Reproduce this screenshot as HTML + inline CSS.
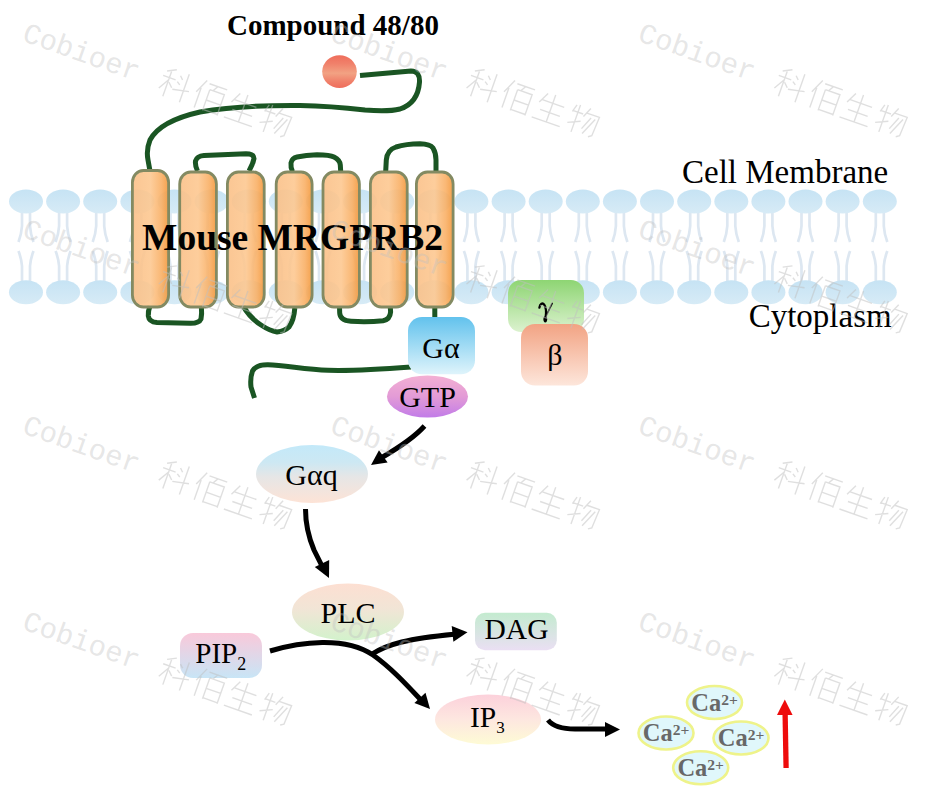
<!DOCTYPE html>
<html><head><meta charset="utf-8"><style>
html,body{margin:0;padding:0;background:#fff;}
body{width:925px;height:787px;overflow:hidden;font-family:"Liberation Serif",serif;}
svg{display:block;}
</style></head><body>
<svg width="925" height="787" viewBox="0 0 925 787">

<defs>
 <linearGradient id="gHead" x1="0" y1="0" x2="0" y2="1"><stop offset="0" stop-color="#c6e3f4"/><stop offset="1" stop-color="#d7ebf6"/></linearGradient>
 <linearGradient id="gHelix" x1="0" y1="0" x2="1" y2="0"><stop offset="0" stop-color="#fac088"/><stop offset="0.5" stop-color="#fdc891"/><stop offset="0.8" stop-color="#f9b066"/><stop offset="1" stop-color="#f3973a"/></linearGradient>
 <linearGradient id="gRed" x1="0" y1="0" x2="0" y2="1"><stop offset="0" stop-color="#ef6d5b"/><stop offset="0.25" stop-color="#f0806a"/><stop offset="0.55" stop-color="#f2a283"/><stop offset="0.8" stop-color="#f0806a"/><stop offset="1" stop-color="#ef6d5b"/></linearGradient>
 <linearGradient id="gGa" x1="0" y1="0" x2="0" y2="1"><stop offset="0" stop-color="#62c2ed"/><stop offset="1" stop-color="#dff4fb"/></linearGradient>
 <linearGradient id="gGTP" x1="0" y1="0" x2="0" y2="1"><stop offset="0" stop-color="#f3b0d3"/><stop offset="0.5" stop-color="#e39bd6"/><stop offset="1" stop-color="#c27ce8"/></linearGradient>
 <linearGradient id="gGam" x1="0" y1="0" x2="0" y2="1"><stop offset="0" stop-color="#8ed573"/><stop offset="1" stop-color="#dcf2cf"/></linearGradient>
 <linearGradient id="gBeta" x1="0" y1="0" x2="0" y2="1"><stop offset="0" stop-color="#f2a383"/><stop offset="1" stop-color="#fde6db"/></linearGradient>
 <linearGradient id="gGaq" x1="0" y1="0" x2="0" y2="1"><stop offset="0" stop-color="#c3e9f9"/><stop offset="0.3" stop-color="#cde8f3"/><stop offset="0.55" stop-color="#e6e6e6"/><stop offset="1" stop-color="#fde3d6"/></linearGradient>
 <linearGradient id="gPLC" x1="0" y1="0" x2="0" y2="1"><stop offset="0" stop-color="#fddfd2"/><stop offset="0.45" stop-color="#f1e5d6"/><stop offset="1" stop-color="#d3f2cc"/></linearGradient>
 <linearGradient id="gPIP" x1="0" y1="0" x2="0" y2="1"><stop offset="0" stop-color="#f9c9da"/><stop offset="1" stop-color="#c8e5f6"/></linearGradient>
 <linearGradient id="gDAG" x1="0" y1="0" x2="0" y2="1"><stop offset="0" stop-color="#c3ebcf"/><stop offset="1" stop-color="#eadff3"/></linearGradient>
 <linearGradient id="gIP3" x1="0" y1="0" x2="0" y2="1"><stop offset="0" stop-color="#fcd1db"/><stop offset="0.5" stop-color="#fde7e0"/><stop offset="1" stop-color="#fefbd5"/></linearGradient>
</defs>

<rect width="925" height="787" fill="#fff"/>
<g id="lipids"><path d="M22.0,212 L22.0,226 Q21.5,234 18.5,242 M30.0,212 L30.0,226 Q30.5,234 33.5,242" fill="none" stroke="#dde7f1" stroke-width="2.7"/><path d="M18.5,251 Q21.5,259 22.0,266 L22.0,281 M33.5,251 Q30.5,259 30.0,266 L30.0,281" fill="none" stroke="#dde7f1" stroke-width="2.7"/><ellipse cx="26.0" cy="201.5" rx="17" ry="12" fill="url(#gHead)"/><ellipse cx="26.0" cy="292.3" rx="17" ry="12" fill="url(#gHead)"/><path d="M59.1,212 L59.1,226 Q58.6,234 55.6,242 M67.1,212 L67.1,226 Q67.6,234 70.6,242" fill="none" stroke="#dde7f1" stroke-width="2.7"/><path d="M55.6,251 Q58.6,259 59.1,266 L59.1,281 M70.6,251 Q67.6,259 67.1,266 L67.1,281" fill="none" stroke="#dde7f1" stroke-width="2.7"/><ellipse cx="63.1" cy="201.5" rx="17" ry="12" fill="url(#gHead)"/><ellipse cx="63.1" cy="292.3" rx="17" ry="12" fill="url(#gHead)"/><path d="M96.2,212 L96.2,226 Q95.7,234 92.7,242 M104.2,212 L104.2,226 Q104.7,234 107.7,242" fill="none" stroke="#dde7f1" stroke-width="2.7"/><path d="M92.7,251 Q95.7,259 96.2,266 L96.2,281 M107.7,251 Q104.7,259 104.2,266 L104.2,281" fill="none" stroke="#dde7f1" stroke-width="2.7"/><ellipse cx="100.2" cy="201.5" rx="17" ry="12" fill="url(#gHead)"/><ellipse cx="100.2" cy="292.3" rx="17" ry="12" fill="url(#gHead)"/><path d="M133.4,212 L133.4,226 Q132.9,234 129.9,242 M141.4,212 L141.4,226 Q141.9,234 144.9,242" fill="none" stroke="#dde7f1" stroke-width="2.7"/><path d="M129.9,251 Q132.9,259 133.4,266 L133.4,281 M144.9,251 Q141.9,259 141.4,266 L141.4,281" fill="none" stroke="#dde7f1" stroke-width="2.7"/><ellipse cx="137.4" cy="201.5" rx="17" ry="12" fill="url(#gHead)"/><ellipse cx="137.4" cy="292.3" rx="17" ry="12" fill="url(#gHead)"/><path d="M170.5,212 L170.5,226 Q170.0,234 167.0,242 M178.5,212 L178.5,226 Q179.0,234 182.0,242" fill="none" stroke="#dde7f1" stroke-width="2.7"/><path d="M167.0,251 Q170.0,259 170.5,266 L170.5,281 M182.0,251 Q179.0,259 178.5,266 L178.5,281" fill="none" stroke="#dde7f1" stroke-width="2.7"/><ellipse cx="174.5" cy="201.5" rx="17" ry="12" fill="url(#gHead)"/><ellipse cx="174.5" cy="292.3" rx="17" ry="12" fill="url(#gHead)"/><path d="M207.6,212 L207.6,226 Q207.1,234 204.1,242 M215.6,212 L215.6,226 Q216.1,234 219.1,242" fill="none" stroke="#dde7f1" stroke-width="2.7"/><path d="M204.1,251 Q207.1,259 207.6,266 L207.6,281 M219.1,251 Q216.1,259 215.6,266 L215.6,281" fill="none" stroke="#dde7f1" stroke-width="2.7"/><ellipse cx="211.6" cy="201.5" rx="17" ry="12" fill="url(#gHead)"/><ellipse cx="211.6" cy="292.3" rx="17" ry="12" fill="url(#gHead)"/><path d="M244.7,212 L244.7,226 Q244.2,234 241.2,242 M252.7,212 L252.7,226 Q253.2,234 256.2,242" fill="none" stroke="#dde7f1" stroke-width="2.7"/><path d="M241.2,251 Q244.2,259 244.7,266 L244.7,281 M256.2,251 Q253.2,259 252.7,266 L252.7,281" fill="none" stroke="#dde7f1" stroke-width="2.7"/><ellipse cx="248.7" cy="201.5" rx="17" ry="12" fill="url(#gHead)"/><ellipse cx="248.7" cy="292.3" rx="17" ry="12" fill="url(#gHead)"/><path d="M281.8,212 L281.8,226 Q281.3,234 278.3,242 M289.8,212 L289.8,226 Q290.3,234 293.3,242" fill="none" stroke="#dde7f1" stroke-width="2.7"/><path d="M278.3,251 Q281.3,259 281.8,266 L281.8,281 M293.3,251 Q290.3,259 289.8,266 L289.8,281" fill="none" stroke="#dde7f1" stroke-width="2.7"/><ellipse cx="285.8" cy="201.5" rx="17" ry="12" fill="url(#gHead)"/><ellipse cx="285.8" cy="292.3" rx="17" ry="12" fill="url(#gHead)"/><path d="M319.0,212 L319.0,226 Q318.5,234 315.5,242 M327.0,212 L327.0,226 Q327.5,234 330.5,242" fill="none" stroke="#dde7f1" stroke-width="2.7"/><path d="M315.5,251 Q318.5,259 319.0,266 L319.0,281 M330.5,251 Q327.5,259 327.0,266 L327.0,281" fill="none" stroke="#dde7f1" stroke-width="2.7"/><ellipse cx="323.0" cy="201.5" rx="17" ry="12" fill="url(#gHead)"/><ellipse cx="323.0" cy="292.3" rx="17" ry="12" fill="url(#gHead)"/><path d="M356.1,212 L356.1,226 Q355.6,234 352.6,242 M364.1,212 L364.1,226 Q364.6,234 367.6,242" fill="none" stroke="#dde7f1" stroke-width="2.7"/><path d="M352.6,251 Q355.6,259 356.1,266 L356.1,281 M367.6,251 Q364.6,259 364.1,266 L364.1,281" fill="none" stroke="#dde7f1" stroke-width="2.7"/><ellipse cx="360.1" cy="201.5" rx="17" ry="12" fill="url(#gHead)"/><ellipse cx="360.1" cy="292.3" rx="17" ry="12" fill="url(#gHead)"/><path d="M393.2,212 L393.2,226 Q392.7,234 389.7,242 M401.2,212 L401.2,226 Q401.7,234 404.7,242" fill="none" stroke="#dde7f1" stroke-width="2.7"/><path d="M389.7,251 Q392.7,259 393.2,266 L393.2,281 M404.7,251 Q401.7,259 401.2,266 L401.2,281" fill="none" stroke="#dde7f1" stroke-width="2.7"/><ellipse cx="397.2" cy="201.5" rx="17" ry="12" fill="url(#gHead)"/><ellipse cx="397.2" cy="292.3" rx="17" ry="12" fill="url(#gHead)"/><path d="M430.3,212 L430.3,226 Q429.8,234 426.8,242 M438.3,212 L438.3,226 Q438.8,234 441.8,242" fill="none" stroke="#dde7f1" stroke-width="2.7"/><path d="M426.8,251 Q429.8,259 430.3,266 L430.3,281 M441.8,251 Q438.8,259 438.3,266 L438.3,281" fill="none" stroke="#dde7f1" stroke-width="2.7"/><ellipse cx="434.3" cy="201.5" rx="17" ry="12" fill="url(#gHead)"/><ellipse cx="434.3" cy="292.3" rx="17" ry="12" fill="url(#gHead)"/><path d="M467.4,212 L467.4,226 Q466.9,234 463.9,242 M475.4,212 L475.4,226 Q475.9,234 478.9,242" fill="none" stroke="#dde7f1" stroke-width="2.7"/><path d="M463.9,251 Q466.9,259 467.4,266 L467.4,281 M478.9,251 Q475.9,259 475.4,266 L475.4,281" fill="none" stroke="#dde7f1" stroke-width="2.7"/><ellipse cx="471.4" cy="201.5" rx="17" ry="12" fill="url(#gHead)"/><ellipse cx="471.4" cy="292.3" rx="17" ry="12" fill="url(#gHead)"/><path d="M504.6,212 L504.6,226 Q504.1,234 501.1,242 M512.6,212 L512.6,226 Q513.1,234 516.1,242" fill="none" stroke="#dde7f1" stroke-width="2.7"/><path d="M501.1,251 Q504.1,259 504.6,266 L504.6,281 M516.1,251 Q513.1,259 512.6,266 L512.6,281" fill="none" stroke="#dde7f1" stroke-width="2.7"/><ellipse cx="508.6" cy="201.5" rx="17" ry="12" fill="url(#gHead)"/><ellipse cx="508.6" cy="292.3" rx="17" ry="12" fill="url(#gHead)"/><path d="M541.7,212 L541.7,226 Q541.2,234 538.2,242 M549.7,212 L549.7,226 Q550.2,234 553.2,242" fill="none" stroke="#dde7f1" stroke-width="2.7"/><path d="M538.2,251 Q541.2,259 541.7,266 L541.7,281 M553.2,251 Q550.2,259 549.7,266 L549.7,281" fill="none" stroke="#dde7f1" stroke-width="2.7"/><ellipse cx="545.7" cy="201.5" rx="17" ry="12" fill="url(#gHead)"/><ellipse cx="545.7" cy="292.3" rx="17" ry="12" fill="url(#gHead)"/><path d="M578.8,212 L578.8,226 Q578.3,234 575.3,242 M586.8,212 L586.8,226 Q587.3,234 590.3,242" fill="none" stroke="#dde7f1" stroke-width="2.7"/><path d="M575.3,251 Q578.3,259 578.8,266 L578.8,281 M590.3,251 Q587.3,259 586.8,266 L586.8,281" fill="none" stroke="#dde7f1" stroke-width="2.7"/><ellipse cx="582.8" cy="201.5" rx="17" ry="12" fill="url(#gHead)"/><ellipse cx="582.8" cy="292.3" rx="17" ry="12" fill="url(#gHead)"/><path d="M615.9,212 L615.9,226 Q615.4,234 612.4,242 M623.9,212 L623.9,226 Q624.4,234 627.4,242" fill="none" stroke="#dde7f1" stroke-width="2.7"/><path d="M612.4,251 Q615.4,259 615.9,266 L615.9,281 M627.4,251 Q624.4,259 623.9,266 L623.9,281" fill="none" stroke="#dde7f1" stroke-width="2.7"/><ellipse cx="619.9" cy="201.5" rx="17" ry="12" fill="url(#gHead)"/><ellipse cx="619.9" cy="292.3" rx="17" ry="12" fill="url(#gHead)"/><path d="M653.0,212 L653.0,226 Q652.5,234 649.5,242 M661.0,212 L661.0,226 Q661.5,234 664.5,242" fill="none" stroke="#dde7f1" stroke-width="2.7"/><path d="M649.5,251 Q652.5,259 653.0,266 L653.0,281 M664.5,251 Q661.5,259 661.0,266 L661.0,281" fill="none" stroke="#dde7f1" stroke-width="2.7"/><ellipse cx="657.0" cy="201.5" rx="17" ry="12" fill="url(#gHead)"/><ellipse cx="657.0" cy="292.3" rx="17" ry="12" fill="url(#gHead)"/><path d="M690.2,212 L690.2,226 Q689.7,234 686.7,242 M698.2,212 L698.2,226 Q698.7,234 701.7,242" fill="none" stroke="#dde7f1" stroke-width="2.7"/><path d="M686.7,251 Q689.7,259 690.2,266 L690.2,281 M701.7,251 Q698.7,259 698.2,266 L698.2,281" fill="none" stroke="#dde7f1" stroke-width="2.7"/><ellipse cx="694.2" cy="201.5" rx="17" ry="12" fill="url(#gHead)"/><ellipse cx="694.2" cy="292.3" rx="17" ry="12" fill="url(#gHead)"/><path d="M727.3,212 L727.3,226 Q726.8,234 723.8,242 M735.3,212 L735.3,226 Q735.8,234 738.8,242" fill="none" stroke="#dde7f1" stroke-width="2.7"/><path d="M723.8,251 Q726.8,259 727.3,266 L727.3,281 M738.8,251 Q735.8,259 735.3,266 L735.3,281" fill="none" stroke="#dde7f1" stroke-width="2.7"/><ellipse cx="731.3" cy="201.5" rx="17" ry="12" fill="url(#gHead)"/><ellipse cx="731.3" cy="292.3" rx="17" ry="12" fill="url(#gHead)"/><path d="M764.4,212 L764.4,226 Q763.9,234 760.9,242 M772.4,212 L772.4,226 Q772.9,234 775.9,242" fill="none" stroke="#dde7f1" stroke-width="2.7"/><path d="M760.9,251 Q763.9,259 764.4,266 L764.4,281 M775.9,251 Q772.9,259 772.4,266 L772.4,281" fill="none" stroke="#dde7f1" stroke-width="2.7"/><ellipse cx="768.4" cy="201.5" rx="17" ry="12" fill="url(#gHead)"/><ellipse cx="768.4" cy="292.3" rx="17" ry="12" fill="url(#gHead)"/><path d="M801.5,212 L801.5,226 Q801.0,234 798.0,242 M809.5,212 L809.5,226 Q810.0,234 813.0,242" fill="none" stroke="#dde7f1" stroke-width="2.7"/><path d="M798.0,251 Q801.0,259 801.5,266 L801.5,281 M813.0,251 Q810.0,259 809.5,266 L809.5,281" fill="none" stroke="#dde7f1" stroke-width="2.7"/><ellipse cx="805.5" cy="201.5" rx="17" ry="12" fill="url(#gHead)"/><ellipse cx="805.5" cy="292.3" rx="17" ry="12" fill="url(#gHead)"/><path d="M838.6,212 L838.6,226 Q838.1,234 835.1,242 M846.6,212 L846.6,226 Q847.1,234 850.1,242" fill="none" stroke="#dde7f1" stroke-width="2.7"/><path d="M835.1,251 Q838.1,259 838.6,266 L838.6,281 M850.1,251 Q847.1,259 846.6,266 L846.6,281" fill="none" stroke="#dde7f1" stroke-width="2.7"/><ellipse cx="842.6" cy="201.5" rx="17" ry="12" fill="url(#gHead)"/><ellipse cx="842.6" cy="292.3" rx="17" ry="12" fill="url(#gHead)"/><path d="M875.8,212 L875.8,226 Q875.3,234 872.3,242 M883.8,212 L883.8,226 Q884.3,234 887.3,242" fill="none" stroke="#dde7f1" stroke-width="2.7"/><path d="M872.3,251 Q875.3,259 875.8,266 L875.8,281 M887.3,251 Q884.3,259 883.8,266 L883.8,281" fill="none" stroke="#dde7f1" stroke-width="2.7"/><ellipse cx="879.8" cy="201.5" rx="17" ry="12" fill="url(#gHead)"/><ellipse cx="879.8" cy="292.3" rx="17" ry="12" fill="url(#gHead)"/></g>
<g fill="none" stroke="#1a5523" stroke-width="5" stroke-linecap="butt" stroke-linejoin="round"><path d="M360,75.5 L411,71 Q420,71 419.5,82 Q418,103 400,109 Q388,112 365,110 Q330,106 300,105.5 Q240,105 200,112 Q160,121 150,140 Q146,150 148,160 L150,171"/><path d="M197.5,171 Q195,166 195.5,161 Q197,156 204,155.5 L246,153.8 Q254,154 254,158.5 Q253,164 249,171"/><path d="M292.5,171.5 Q290.5,167 291,163 Q292,158 297,157 Q306,155 317,154.8 Q330,155 334,157 Q340,160 340.3,165 L340.7,171.5"/><path d="M385.7,171.5 L386.3,160 Q387,150 396,147 Q406,144 420,143.8 Q430,144 433,148 Q436,153 436,160 L436,171.5"/><path d="M150,306 Q148,311 148.3,316 Q149,322 157,322.5 L190,323.3 Q199,323.5 201,319 Q202,314 201.4,307"/><path d="M243,306 Q250,318 261,325 Q270,331 277,332 Q285,331 289,327 Q294,320 294.8,308"/><path d="M339.5,306.5 L339.7,313 Q340,320.5 351,321.3 Q368,322.2 383,320.8 Q390,319.5 390.6,312 L390.3,307"/><path d="M434.8,306 L434.8,318"/><path d="M411,367 C385,369 355,371 328,370.3 C305,369.5 285,365.2 268,364.8 Q256,364.6 252.5,371 Q250,378 251,387 L254.5,398"/></g>
<g id="helices"><rect x="132.4" y="170.5" width="36.2" height="136.5" rx="11" ry="12" fill="url(#gHelix)" fill-opacity="0.9" stroke="#838a62" stroke-width="2.8"/><rect x="179.7" y="172" width="36.7" height="135.0" rx="11" ry="12" fill="url(#gHelix)" fill-opacity="0.9" stroke="#838a62" stroke-width="2.8"/><rect x="227.4" y="172" width="36.8" height="135.0" rx="11" ry="12" fill="url(#gHelix)" fill-opacity="0.9" stroke="#838a62" stroke-width="2.8"/><rect x="276.2" y="172" width="35.9" height="135.0" rx="11" ry="12" fill="url(#gHelix)" fill-opacity="0.9" stroke="#838a62" stroke-width="2.8"/><rect x="323.0" y="172" width="36.4" height="135.0" rx="11" ry="12" fill="url(#gHelix)" fill-opacity="0.9" stroke="#838a62" stroke-width="2.8"/><rect x="370.4" y="172" width="36.8" height="135.0" rx="11" ry="12" fill="url(#gHelix)" fill-opacity="0.9" stroke="#838a62" stroke-width="2.8"/><rect x="416.4" y="172" width="36.7" height="135.0" rx="11" ry="12" fill="url(#gHelix)" fill-opacity="0.9" stroke="#838a62" stroke-width="2.8"/></g>
<ellipse cx="339.5" cy="71.6" rx="17.3" ry="16.4" fill="url(#gRed)"/>
<text x="227" y="35" font-family="Liberation Serif" font-weight="bold" font-size="29" fill="#000">Compound 48/80</text>
<text x="142" y="250" font-family="Liberation Serif" font-weight="bold" font-size="37.5" fill="#000">Mouse MRGPRB2</text>
<text x="682" y="183.3" font-family="Liberation Serif" font-size="33" fill="#000">Cell Membrane</text>
<text x="748.7" y="326.5" font-family="Liberation Serif" font-size="33" fill="#000">Cytoplasm</text>
<rect x="508" y="280" width="76" height="52" rx="13" fill="url(#gGam)"/>
<g fill="none" stroke="#000" stroke-linecap="round"><path d="M539.4,307.6 C540,303.6 542.6,302.4 544.2,304.6 C546.2,307.4 546.4,312 545.7,317" stroke-width="2.3"/><path d="M552.2,303.4 L545.8,316.5" stroke-width="1.5"/></g><ellipse cx="545.3" cy="319.3" rx="1.9" ry="3.1" fill="#000"/>
<rect x="521" y="324" width="67" height="61.5" rx="14" fill="url(#gBeta)"/>
<text x="555" y="365" font-family="Liberation Serif" font-size="30" text-anchor="middle">β</text>
<rect x="408" y="317" width="67" height="57.3" rx="14" fill="url(#gGa)"/>
<text x="441" y="357.5" font-family="Liberation Serif" font-size="30" text-anchor="middle">Gα</text>
<ellipse cx="427.5" cy="396.5" rx="40.5" ry="21" fill="url(#gGTP)"/>
<text x="427.5" y="406.6" font-family="Liberation Serif" font-size="30" text-anchor="middle">GTP</text>
<ellipse cx="312" cy="474" rx="56" ry="29" fill="url(#gGaq)"/>
<text x="311.5" y="485" font-family="Liberation Serif" font-size="30" text-anchor="middle">Gαq</text>
<ellipse cx="348" cy="612" rx="56" ry="28.5" fill="url(#gPLC)"/>
<text x="348" y="622.5" font-family="Liberation Serif" font-size="30" text-anchor="middle">PLC</text>
<rect x="180" y="633" width="82" height="45" rx="13" fill="url(#gPIP)"/>
<text x="195.3" y="663" font-family="Liberation Serif" font-size="29">PIP<tspan font-size="18" dy="6.5">2</tspan></text>
<rect x="475" y="612.7" width="81.8" height="37.5" rx="10" fill="url(#gDAG)"/>
<text x="516.5" y="639" font-family="Liberation Serif" font-size="29.5" text-anchor="middle">DAG</text>
<ellipse cx="488" cy="719.5" rx="53" ry="25" fill="url(#gIP3)"/>
<text x="470" y="727" font-family="Liberation Serif" font-size="29.5">IP<tspan font-size="17" dy="5.5">3</tspan></text>
<path d="M424.5,426 Q412,440 381,458" fill="none" stroke="#000" stroke-width="5" stroke-linecap="butt"/>
<path d="M371.0,465.0 L379.0,450.3 L387.6,462.5 Z" fill="#000"/>
<path d="M305.5,509 Q305.5,530 314,550 L322,566" fill="none" stroke="#000" stroke-width="5" stroke-linecap="butt"/>
<path d="M329.0,578.0 L314.8,567.1 L329.2,560.1 Z" fill="#000"/>
<path d="M270,651 C300,642 345,636 373,655 C390,667 405,683 420,699" fill="none" stroke="#000" stroke-width="5" stroke-linecap="butt"/>
<path d="M430.0,709.0 L414.4,702.9 L425.5,692.8 Z" fill="#000"/>
<path d="M372,654 C388,644 408,638.5 454,634.2" fill="none" stroke="#000" stroke-width="5" stroke-linecap="butt"/>
<path d="M467.5,632.3 L453.4,641.8 L451.7,625.9 Z" fill="#000"/>
<path d="M548,720 Q555,729 575,729 L607,729" fill="none" stroke="#000" stroke-width="5" stroke-linecap="butt"/>
<path d="M620.0,729.5 L605.0,737.0 L605.0,722.0 Z" fill="#000"/>
<ellipse cx="714.5" cy="702.5" rx="27.5" ry="16.5" fill="#e0f7fb" stroke="#eef38a" stroke-width="2.6"/><text x="691.2" y="710.8" font-family="Liberation Serif" font-weight="bold" font-size="24.5" fill="#686868">Ca<tspan font-size="15.5" dy="-6.3">2+</tspan></text>
<ellipse cx="666" cy="733" rx="27.5" ry="16.5" fill="#e0f7fb" stroke="#eef38a" stroke-width="2.6"/><text x="642.7" y="741.3" font-family="Liberation Serif" font-weight="bold" font-size="24.5" fill="#686868">Ca<tspan font-size="15.5" dy="-6.3">2+</tspan></text>
<ellipse cx="741" cy="738" rx="27.5" ry="16.5" fill="#e0f7fb" stroke="#eef38a" stroke-width="2.6"/><text x="717.7" y="746.3" font-family="Liberation Serif" font-weight="bold" font-size="24.5" fill="#686868">Ca<tspan font-size="15.5" dy="-6.3">2+</tspan></text>
<ellipse cx="700.7" cy="767.8" rx="27.5" ry="16.5" fill="#e0f7fb" stroke="#eef38a" stroke-width="2.6"/><text x="677.4" y="776.1" font-family="Liberation Serif" font-weight="bold" font-size="24.5" fill="#686868">Ca<tspan font-size="15.5" dy="-6.3">2+</tspan></text>
<path d="M786.1,768 L785.1,713" stroke="#ee0c0c" stroke-width="5.3" fill="none"/>
<path d="M784.8,699.6 L792.6,715 L777,715 Z" fill="#ee0c0c"/>
<g id="wm"><g transform="translate(21.0,40.5) rotate(19.5)"><text x="0" y="0" font-family="Liberation Mono" font-size="29" fill="#c0c0c0" fill-opacity="0.4">Cobioer</text><path transform="translate(144.6,-25.5) scale(1.1)" d="M11,1 L3,5 M1,10 L13,10 M7,4 L7,28 M7,12 L1,22 M8,14 L12,18 M16,5 L19,8 M15,11 L18,13 M13,19 L28,16 M23,1 L23,28" fill="none" stroke="#c0c0c0" stroke-opacity="0.5" stroke-width="1.25"/><path transform="translate(180.1,-25.5) scale(1.1)" d="M8,1 L2,14 M5,9 L5,28 M11,3 L28,3 M19,3 L16,8 M13,8 L13,28 M13,8 L27,8 L27,28 M13,18 L27,18 M13,27 L27,27" fill="none" stroke="#c0c0c0" stroke-opacity="0.5" stroke-width="1.25"/><path transform="translate(215.6,-25.5) scale(1.1)" d="M8,2 L3,12 M5,9 L26,9 M15,1 L15,27 M6,18 L25,18 M1,27 L28,27" fill="none" stroke="#c0c0c0" stroke-opacity="0.5" stroke-width="1.25"/><path transform="translate(251.1,-25.5) scale(1.1)" d="M4,3 L2,10 M2,9 L12,9 M7,2 L7,28 M1,21 L12,16 M17,2 L13,11 M15,7 L27,7 L26,25 L23,27 M20,10 L15,22 M24,10 L17,26" fill="none" stroke="#c0c0c0" stroke-opacity="0.5" stroke-width="1.25"/></g><g transform="translate(328.8,40.5) rotate(19.5)"><text x="0" y="0" font-family="Liberation Mono" font-size="29" fill="#c0c0c0" fill-opacity="0.4">Cobioer</text><path transform="translate(144.6,-25.5) scale(1.1)" d="M11,1 L3,5 M1,10 L13,10 M7,4 L7,28 M7,12 L1,22 M8,14 L12,18 M16,5 L19,8 M15,11 L18,13 M13,19 L28,16 M23,1 L23,28" fill="none" stroke="#c0c0c0" stroke-opacity="0.5" stroke-width="1.25"/><path transform="translate(180.1,-25.5) scale(1.1)" d="M8,1 L2,14 M5,9 L5,28 M11,3 L28,3 M19,3 L16,8 M13,8 L13,28 M13,8 L27,8 L27,28 M13,18 L27,18 M13,27 L27,27" fill="none" stroke="#c0c0c0" stroke-opacity="0.5" stroke-width="1.25"/><path transform="translate(215.6,-25.5) scale(1.1)" d="M8,2 L3,12 M5,9 L26,9 M15,1 L15,27 M6,18 L25,18 M1,27 L28,27" fill="none" stroke="#c0c0c0" stroke-opacity="0.5" stroke-width="1.25"/><path transform="translate(251.1,-25.5) scale(1.1)" d="M4,3 L2,10 M2,9 L12,9 M7,2 L7,28 M1,21 L12,16 M17,2 L13,11 M15,7 L27,7 L26,25 L23,27 M20,10 L15,22 M24,10 L17,26" fill="none" stroke="#c0c0c0" stroke-opacity="0.5" stroke-width="1.25"/></g><g transform="translate(636.6,40.5) rotate(19.5)"><text x="0" y="0" font-family="Liberation Mono" font-size="29" fill="#c0c0c0" fill-opacity="0.4">Cobioer</text><path transform="translate(144.6,-25.5) scale(1.1)" d="M11,1 L3,5 M1,10 L13,10 M7,4 L7,28 M7,12 L1,22 M8,14 L12,18 M16,5 L19,8 M15,11 L18,13 M13,19 L28,16 M23,1 L23,28" fill="none" stroke="#c0c0c0" stroke-opacity="0.5" stroke-width="1.25"/><path transform="translate(180.1,-25.5) scale(1.1)" d="M8,1 L2,14 M5,9 L5,28 M11,3 L28,3 M19,3 L16,8 M13,8 L13,28 M13,8 L27,8 L27,28 M13,18 L27,18 M13,27 L27,27" fill="none" stroke="#c0c0c0" stroke-opacity="0.5" stroke-width="1.25"/><path transform="translate(215.6,-25.5) scale(1.1)" d="M8,2 L3,12 M5,9 L26,9 M15,1 L15,27 M6,18 L25,18 M1,27 L28,27" fill="none" stroke="#c0c0c0" stroke-opacity="0.5" stroke-width="1.25"/><path transform="translate(251.1,-25.5) scale(1.1)" d="M4,3 L2,10 M2,9 L12,9 M7,2 L7,28 M1,21 L12,16 M17,2 L13,11 M15,7 L27,7 L26,25 L23,27 M20,10 L15,22 M24,10 L17,26" fill="none" stroke="#c0c0c0" stroke-opacity="0.5" stroke-width="1.25"/></g><g transform="translate(21.0,236.6) rotate(19.5)"><text x="0" y="0" font-family="Liberation Mono" font-size="29" fill="#c0c0c0" fill-opacity="0.4">Cobioer</text><path transform="translate(144.6,-25.5) scale(1.1)" d="M11,1 L3,5 M1,10 L13,10 M7,4 L7,28 M7,12 L1,22 M8,14 L12,18 M16,5 L19,8 M15,11 L18,13 M13,19 L28,16 M23,1 L23,28" fill="none" stroke="#c0c0c0" stroke-opacity="0.5" stroke-width="1.25"/><path transform="translate(180.1,-25.5) scale(1.1)" d="M8,1 L2,14 M5,9 L5,28 M11,3 L28,3 M19,3 L16,8 M13,8 L13,28 M13,8 L27,8 L27,28 M13,18 L27,18 M13,27 L27,27" fill="none" stroke="#c0c0c0" stroke-opacity="0.5" stroke-width="1.25"/><path transform="translate(215.6,-25.5) scale(1.1)" d="M8,2 L3,12 M5,9 L26,9 M15,1 L15,27 M6,18 L25,18 M1,27 L28,27" fill="none" stroke="#c0c0c0" stroke-opacity="0.5" stroke-width="1.25"/><path transform="translate(251.1,-25.5) scale(1.1)" d="M4,3 L2,10 M2,9 L12,9 M7,2 L7,28 M1,21 L12,16 M17,2 L13,11 M15,7 L27,7 L26,25 L23,27 M20,10 L15,22 M24,10 L17,26" fill="none" stroke="#c0c0c0" stroke-opacity="0.5" stroke-width="1.25"/></g><g transform="translate(328.8,236.6) rotate(19.5)"><text x="0" y="0" font-family="Liberation Mono" font-size="29" fill="#c0c0c0" fill-opacity="0.4">Cobioer</text><path transform="translate(144.6,-25.5) scale(1.1)" d="M11,1 L3,5 M1,10 L13,10 M7,4 L7,28 M7,12 L1,22 M8,14 L12,18 M16,5 L19,8 M15,11 L18,13 M13,19 L28,16 M23,1 L23,28" fill="none" stroke="#c0c0c0" stroke-opacity="0.5" stroke-width="1.25"/><path transform="translate(180.1,-25.5) scale(1.1)" d="M8,1 L2,14 M5,9 L5,28 M11,3 L28,3 M19,3 L16,8 M13,8 L13,28 M13,8 L27,8 L27,28 M13,18 L27,18 M13,27 L27,27" fill="none" stroke="#c0c0c0" stroke-opacity="0.5" stroke-width="1.25"/><path transform="translate(215.6,-25.5) scale(1.1)" d="M8,2 L3,12 M5,9 L26,9 M15,1 L15,27 M6,18 L25,18 M1,27 L28,27" fill="none" stroke="#c0c0c0" stroke-opacity="0.5" stroke-width="1.25"/><path transform="translate(251.1,-25.5) scale(1.1)" d="M4,3 L2,10 M2,9 L12,9 M7,2 L7,28 M1,21 L12,16 M17,2 L13,11 M15,7 L27,7 L26,25 L23,27 M20,10 L15,22 M24,10 L17,26" fill="none" stroke="#c0c0c0" stroke-opacity="0.5" stroke-width="1.25"/></g><g transform="translate(636.6,236.6) rotate(19.5)"><text x="0" y="0" font-family="Liberation Mono" font-size="29" fill="#c0c0c0" fill-opacity="0.4">Cobioer</text><path transform="translate(144.6,-25.5) scale(1.1)" d="M11,1 L3,5 M1,10 L13,10 M7,4 L7,28 M7,12 L1,22 M8,14 L12,18 M16,5 L19,8 M15,11 L18,13 M13,19 L28,16 M23,1 L23,28" fill="none" stroke="#c0c0c0" stroke-opacity="0.5" stroke-width="1.25"/><path transform="translate(180.1,-25.5) scale(1.1)" d="M8,1 L2,14 M5,9 L5,28 M11,3 L28,3 M19,3 L16,8 M13,8 L13,28 M13,8 L27,8 L27,28 M13,18 L27,18 M13,27 L27,27" fill="none" stroke="#c0c0c0" stroke-opacity="0.5" stroke-width="1.25"/><path transform="translate(215.6,-25.5) scale(1.1)" d="M8,2 L3,12 M5,9 L26,9 M15,1 L15,27 M6,18 L25,18 M1,27 L28,27" fill="none" stroke="#c0c0c0" stroke-opacity="0.5" stroke-width="1.25"/><path transform="translate(251.1,-25.5) scale(1.1)" d="M4,3 L2,10 M2,9 L12,9 M7,2 L7,28 M1,21 L12,16 M17,2 L13,11 M15,7 L27,7 L26,25 L23,27 M20,10 L15,22 M24,10 L17,26" fill="none" stroke="#c0c0c0" stroke-opacity="0.5" stroke-width="1.25"/></g><g transform="translate(21.0,432.7) rotate(19.5)"><text x="0" y="0" font-family="Liberation Mono" font-size="29" fill="#c0c0c0" fill-opacity="0.4">Cobioer</text><path transform="translate(144.6,-25.5) scale(1.1)" d="M11,1 L3,5 M1,10 L13,10 M7,4 L7,28 M7,12 L1,22 M8,14 L12,18 M16,5 L19,8 M15,11 L18,13 M13,19 L28,16 M23,1 L23,28" fill="none" stroke="#c0c0c0" stroke-opacity="0.5" stroke-width="1.25"/><path transform="translate(180.1,-25.5) scale(1.1)" d="M8,1 L2,14 M5,9 L5,28 M11,3 L28,3 M19,3 L16,8 M13,8 L13,28 M13,8 L27,8 L27,28 M13,18 L27,18 M13,27 L27,27" fill="none" stroke="#c0c0c0" stroke-opacity="0.5" stroke-width="1.25"/><path transform="translate(215.6,-25.5) scale(1.1)" d="M8,2 L3,12 M5,9 L26,9 M15,1 L15,27 M6,18 L25,18 M1,27 L28,27" fill="none" stroke="#c0c0c0" stroke-opacity="0.5" stroke-width="1.25"/><path transform="translate(251.1,-25.5) scale(1.1)" d="M4,3 L2,10 M2,9 L12,9 M7,2 L7,28 M1,21 L12,16 M17,2 L13,11 M15,7 L27,7 L26,25 L23,27 M20,10 L15,22 M24,10 L17,26" fill="none" stroke="#c0c0c0" stroke-opacity="0.5" stroke-width="1.25"/></g><g transform="translate(328.8,432.7) rotate(19.5)"><text x="0" y="0" font-family="Liberation Mono" font-size="29" fill="#c0c0c0" fill-opacity="0.4">Cobioer</text><path transform="translate(144.6,-25.5) scale(1.1)" d="M11,1 L3,5 M1,10 L13,10 M7,4 L7,28 M7,12 L1,22 M8,14 L12,18 M16,5 L19,8 M15,11 L18,13 M13,19 L28,16 M23,1 L23,28" fill="none" stroke="#c0c0c0" stroke-opacity="0.5" stroke-width="1.25"/><path transform="translate(180.1,-25.5) scale(1.1)" d="M8,1 L2,14 M5,9 L5,28 M11,3 L28,3 M19,3 L16,8 M13,8 L13,28 M13,8 L27,8 L27,28 M13,18 L27,18 M13,27 L27,27" fill="none" stroke="#c0c0c0" stroke-opacity="0.5" stroke-width="1.25"/><path transform="translate(215.6,-25.5) scale(1.1)" d="M8,2 L3,12 M5,9 L26,9 M15,1 L15,27 M6,18 L25,18 M1,27 L28,27" fill="none" stroke="#c0c0c0" stroke-opacity="0.5" stroke-width="1.25"/><path transform="translate(251.1,-25.5) scale(1.1)" d="M4,3 L2,10 M2,9 L12,9 M7,2 L7,28 M1,21 L12,16 M17,2 L13,11 M15,7 L27,7 L26,25 L23,27 M20,10 L15,22 M24,10 L17,26" fill="none" stroke="#c0c0c0" stroke-opacity="0.5" stroke-width="1.25"/></g><g transform="translate(636.6,432.7) rotate(19.5)"><text x="0" y="0" font-family="Liberation Mono" font-size="29" fill="#c0c0c0" fill-opacity="0.4">Cobioer</text><path transform="translate(144.6,-25.5) scale(1.1)" d="M11,1 L3,5 M1,10 L13,10 M7,4 L7,28 M7,12 L1,22 M8,14 L12,18 M16,5 L19,8 M15,11 L18,13 M13,19 L28,16 M23,1 L23,28" fill="none" stroke="#c0c0c0" stroke-opacity="0.5" stroke-width="1.25"/><path transform="translate(180.1,-25.5) scale(1.1)" d="M8,1 L2,14 M5,9 L5,28 M11,3 L28,3 M19,3 L16,8 M13,8 L13,28 M13,8 L27,8 L27,28 M13,18 L27,18 M13,27 L27,27" fill="none" stroke="#c0c0c0" stroke-opacity="0.5" stroke-width="1.25"/><path transform="translate(215.6,-25.5) scale(1.1)" d="M8,2 L3,12 M5,9 L26,9 M15,1 L15,27 M6,18 L25,18 M1,27 L28,27" fill="none" stroke="#c0c0c0" stroke-opacity="0.5" stroke-width="1.25"/><path transform="translate(251.1,-25.5) scale(1.1)" d="M4,3 L2,10 M2,9 L12,9 M7,2 L7,28 M1,21 L12,16 M17,2 L13,11 M15,7 L27,7 L26,25 L23,27 M20,10 L15,22 M24,10 L17,26" fill="none" stroke="#c0c0c0" stroke-opacity="0.5" stroke-width="1.25"/></g><g transform="translate(21.0,628.8) rotate(19.5)"><text x="0" y="0" font-family="Liberation Mono" font-size="29" fill="#c0c0c0" fill-opacity="0.4">Cobioer</text><path transform="translate(144.6,-25.5) scale(1.1)" d="M11,1 L3,5 M1,10 L13,10 M7,4 L7,28 M7,12 L1,22 M8,14 L12,18 M16,5 L19,8 M15,11 L18,13 M13,19 L28,16 M23,1 L23,28" fill="none" stroke="#c0c0c0" stroke-opacity="0.5" stroke-width="1.25"/><path transform="translate(180.1,-25.5) scale(1.1)" d="M8,1 L2,14 M5,9 L5,28 M11,3 L28,3 M19,3 L16,8 M13,8 L13,28 M13,8 L27,8 L27,28 M13,18 L27,18 M13,27 L27,27" fill="none" stroke="#c0c0c0" stroke-opacity="0.5" stroke-width="1.25"/><path transform="translate(215.6,-25.5) scale(1.1)" d="M8,2 L3,12 M5,9 L26,9 M15,1 L15,27 M6,18 L25,18 M1,27 L28,27" fill="none" stroke="#c0c0c0" stroke-opacity="0.5" stroke-width="1.25"/><path transform="translate(251.1,-25.5) scale(1.1)" d="M4,3 L2,10 M2,9 L12,9 M7,2 L7,28 M1,21 L12,16 M17,2 L13,11 M15,7 L27,7 L26,25 L23,27 M20,10 L15,22 M24,10 L17,26" fill="none" stroke="#c0c0c0" stroke-opacity="0.5" stroke-width="1.25"/></g><g transform="translate(328.8,628.8) rotate(19.5)"><text x="0" y="0" font-family="Liberation Mono" font-size="29" fill="#c0c0c0" fill-opacity="0.4">Cobioer</text><path transform="translate(144.6,-25.5) scale(1.1)" d="M11,1 L3,5 M1,10 L13,10 M7,4 L7,28 M7,12 L1,22 M8,14 L12,18 M16,5 L19,8 M15,11 L18,13 M13,19 L28,16 M23,1 L23,28" fill="none" stroke="#c0c0c0" stroke-opacity="0.5" stroke-width="1.25"/><path transform="translate(180.1,-25.5) scale(1.1)" d="M8,1 L2,14 M5,9 L5,28 M11,3 L28,3 M19,3 L16,8 M13,8 L13,28 M13,8 L27,8 L27,28 M13,18 L27,18 M13,27 L27,27" fill="none" stroke="#c0c0c0" stroke-opacity="0.5" stroke-width="1.25"/><path transform="translate(215.6,-25.5) scale(1.1)" d="M8,2 L3,12 M5,9 L26,9 M15,1 L15,27 M6,18 L25,18 M1,27 L28,27" fill="none" stroke="#c0c0c0" stroke-opacity="0.5" stroke-width="1.25"/><path transform="translate(251.1,-25.5) scale(1.1)" d="M4,3 L2,10 M2,9 L12,9 M7,2 L7,28 M1,21 L12,16 M17,2 L13,11 M15,7 L27,7 L26,25 L23,27 M20,10 L15,22 M24,10 L17,26" fill="none" stroke="#c0c0c0" stroke-opacity="0.5" stroke-width="1.25"/></g><g transform="translate(636.6,628.8) rotate(19.5)"><text x="0" y="0" font-family="Liberation Mono" font-size="29" fill="#c0c0c0" fill-opacity="0.4">Cobioer</text><path transform="translate(144.6,-25.5) scale(1.1)" d="M11,1 L3,5 M1,10 L13,10 M7,4 L7,28 M7,12 L1,22 M8,14 L12,18 M16,5 L19,8 M15,11 L18,13 M13,19 L28,16 M23,1 L23,28" fill="none" stroke="#c0c0c0" stroke-opacity="0.5" stroke-width="1.25"/><path transform="translate(180.1,-25.5) scale(1.1)" d="M8,1 L2,14 M5,9 L5,28 M11,3 L28,3 M19,3 L16,8 M13,8 L13,28 M13,8 L27,8 L27,28 M13,18 L27,18 M13,27 L27,27" fill="none" stroke="#c0c0c0" stroke-opacity="0.5" stroke-width="1.25"/><path transform="translate(215.6,-25.5) scale(1.1)" d="M8,2 L3,12 M5,9 L26,9 M15,1 L15,27 M6,18 L25,18 M1,27 L28,27" fill="none" stroke="#c0c0c0" stroke-opacity="0.5" stroke-width="1.25"/><path transform="translate(251.1,-25.5) scale(1.1)" d="M4,3 L2,10 M2,9 L12,9 M7,2 L7,28 M1,21 L12,16 M17,2 L13,11 M15,7 L27,7 L26,25 L23,27 M20,10 L15,22 M24,10 L17,26" fill="none" stroke="#c0c0c0" stroke-opacity="0.5" stroke-width="1.25"/></g></g>
</svg>
</body></html>
